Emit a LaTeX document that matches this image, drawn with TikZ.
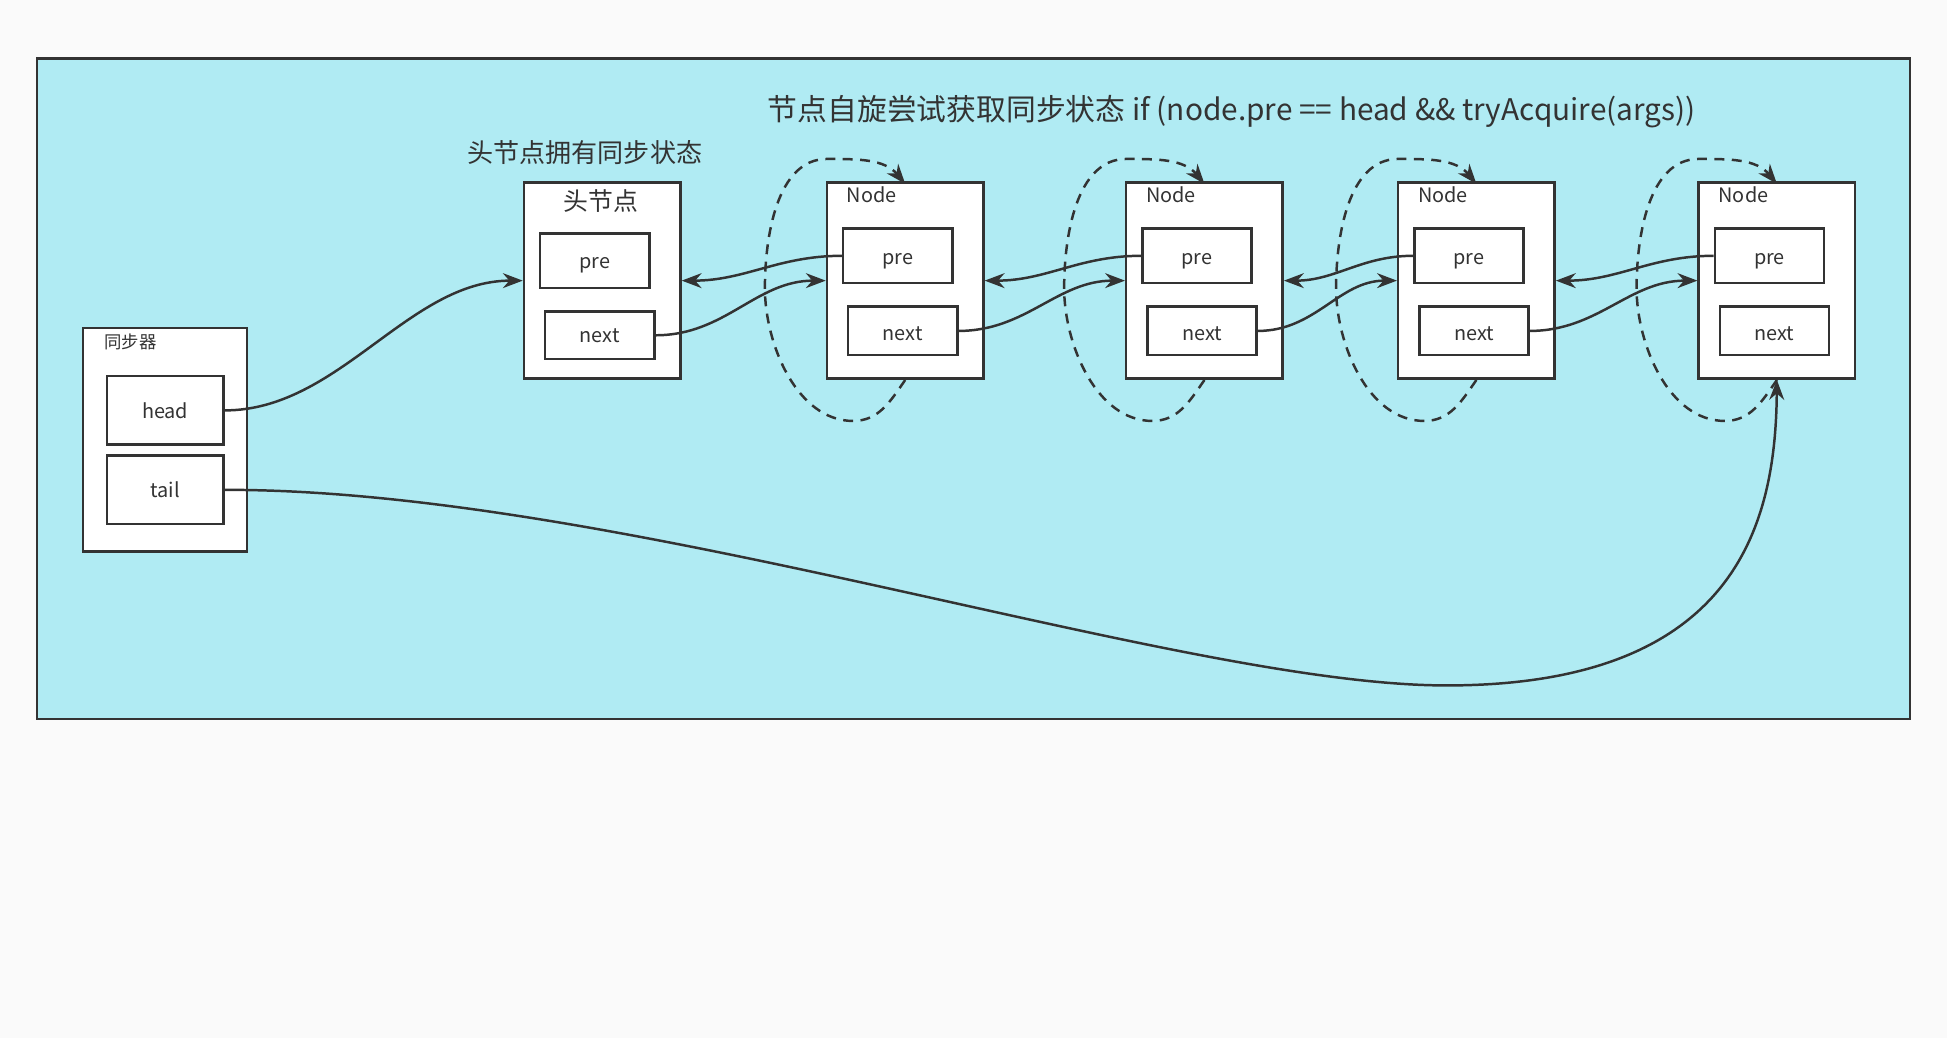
\documentclass[tikz,border=0pt]{standalone}
\usepackage{fontspec}
\setmainfont{Noto Sans CJK SC}
\usetikzlibrary{arrows.meta}
\definecolor{bgc}{HTML}{FAFAFA}
\definecolor{cyanbg}{HTML}{B0EBF3}
\definecolor{ln}{HTML}{333333}
\begin{document}
\begin{tikzpicture}[x=0.5pt,y=-0.5pt,
  box/.style={draw=ln,line width=1pt,fill=white,inner sep=0,anchor=north west},
  lbl/.style={font=\fontsize{8}{9}\selectfont,text=ln},
  con/.style={draw=ln,line width=1pt,-{Stealth[length=8pt,width=6pt]}},
  dsh/.style={con,dashed,dash pattern=on 4pt off 3pt}]
\fill[bgc] (0,0) rectangle (1568,836);
\useasboundingbox (0,0) rectangle (1568,836);
\draw[ln,line width=1pt,fill=cyanbg] (30,47) rectangle (1538,579);
\node[lbl,font=\fontsize{12}{13}\selectfont] (title) at (992,90) {节点自旋尝试获取同步状态 if (node.pre == head \&\& tryAcquire(args))};
\node[lbl,font=\fontsize{10.5}{12}\selectfont] (hl) at (471,123) {头节点拥有同步状态};
% sync
\node[box,minimum width=66pt,minimum height=90pt] (sync) at (66,263) {};
\node[lbl,font=\fontsize{7}{8}\selectfont,anchor=west] (syncl) at (77,275) {同步器};
\node[box,minimum width=47pt,minimum height=27.5pt] (head) at (85,302) {};
\node[lbl] at (head.center) {head};
\node[box,minimum width=47pt,minimum height=27.5pt] (tail) at (85,366) {};
\node[lbl] at (tail.center) {tail};
% head node
\node[box,minimum width=63pt,minimum height=79pt] (hn) at (421,146) {};
\node[lbl,font=\fontsize{10}{12}\selectfont] (hnl) at (484,162) {头节点};
\node[box,minimum width=44pt,minimum height=22pt] (hpre) at (434,187) {};
\node[lbl] at ([yshift=-2pt]hpre.center) {pre};
\node[box,minimum width=44pt,minimum height=19pt] (hnext) at (438,250) {};
\node[lbl] at (hnext.center) {next};
% nodes
\foreach \i/\x in {1/665,2/906,3/1125,4/1367}{
  \node[box,minimum width=63pt,minimum height=79pt] (n\i) at (\x,146) {};
  \node[lbl,anchor=west] at (\x+10,157) {Node};
  \node[box,minimum width=44pt,minimum height=22pt] (p\i) at (\x+13,183) {};
  \node[lbl] at ([yshift=-2pt]p\i.center) {pre};
  \node[box,minimum width=44pt,minimum height=19.5pt] (x\i) at (\x+17,246) {};
  \node[lbl] at ([yshift=-1pt]x\i.center) {next};
}
\draw[con] (head.east) to[out=0,in=180,looseness=0.9] (hn.west);
\draw[con] (tail.east) .. controls (500,394) and (950,552) .. (1165,552) .. controls (1400,552) and (1430,420) .. (n4.south);
\draw[con] (hnext.east) to[out=0,in=180] (n1.west);
\draw[con] (p1.west) to[out=180,in=0] (hn.east);
\foreach \a/\b in {1/2,2/3,3/4}{
  \draw[con] (x\a.east) to[out=0,in=180] (n\b.west);
  \draw[con] (p\b.west) to[out=180,in=0] (n\a.east);
}
\foreach \i in {1,2,3,4}{
  \begin{scope}[shift={(n\i.south)}]
  \draw[dsh] (0,0) to[out=235,in=0] (-42,33) to[out=180,in=-90,looseness=0.9] (-113,-74)
     to[out=90,in=180,looseness=0.9] (-63,-178) to[out=0,in=130] (0,-158);
  \end{scope}
}
\end{tikzpicture}
\end{document}
